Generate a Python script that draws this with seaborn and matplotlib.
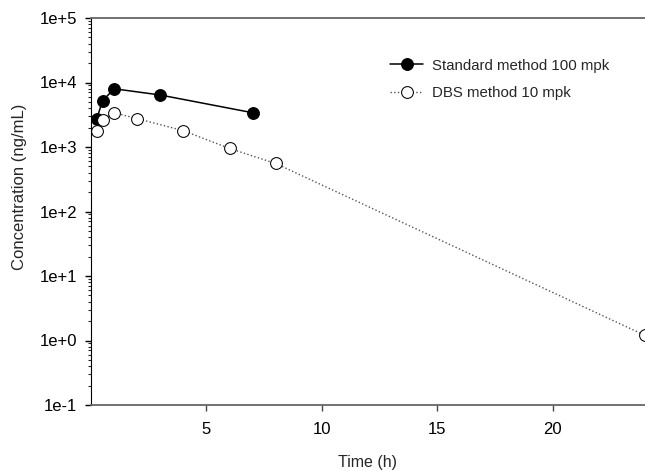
import numpy as np
import pandas as pd
import seaborn as sns
import matplotlib.pyplot as plt
from matplotlib.ticker import FixedLocator, FuncFormatter, LogLocator, NullFormatter

std_time = [0.25, 0.5, 1, 3, 7]
std_conc = [2750, 5200, 8000, 6400, 3400]
dbs_time = [0.25, 0.5, 1, 2, 4, 6, 8, 24]
dbs_conc = [1790, 2650, 3400, 2750, 1790, 950, 555, 1.2]

sns.set_style('ticks')
plt.rcParams['font.family'] = ['Liberation Sans', 'DejaVu Sans']

fig = plt.figure(figsize=(6.45, 4.71), dpi=100)
ax = fig.add_axes([91 / 645, 1 - 405 / 471, 1 - 91 / 645, (405 - 18) / 471])

std = pd.DataFrame({'t': std_time, 'c': std_conc})
dbs = pd.DataFrame({'t': dbs_time, 'c': dbs_conc})

sns.lineplot(data=std, x='t', y='c', ax=ax, color='black', lw=1.1,
             marker='o', markersize=8.5, markerfacecolor='black',
             markeredgecolor='black', label='Standard method 100 mpk', clip_on=False)
sns.lineplot(data=dbs, x='t', y='c', ax=ax, color='#555555', lw=1.0, ls=':',
             marker='o', markersize=8.5, markerfacecolor='white',
             markeredgecolor='black', label='DBS method 10 mpk', clip_on=False)

ax.set_yscale('log')
ax.set_xlim(0, 24)
ax.set_ylim(0.1, 1e5)

ax.xaxis.set_major_locator(FixedLocator([5, 10, 15, 20]))
ax.yaxis.set_major_locator(FixedLocator([1e-1, 1e0, 1e1, 1e2, 1e3, 1e4, 1e5]))
ax.yaxis.set_major_formatter(FuncFormatter(lambda v, p: '1e%+d' % round(np.log10(v))))
ax.yaxis.set_minor_locator(LogLocator(base=10, subs=np.arange(2, 10), numticks=20))
ax.yaxis.set_minor_formatter(NullFormatter())

ax.tick_params(axis='both', which='major', labelsize=12, direction='out', length=4, width=1, colors='black')
ax.tick_params(axis='y', which='major', pad=6)
ax.tick_params(axis='x', which='major', pad=8, colors='#444444', labelcolor='black')
ax.tick_params(axis='y', which='minor', direction='out', length=2.5, width=0.8)

for s in ['top', 'bottom']:
    ax.spines[s].set_color('#666666')
    ax.spines[s].set_linewidth(1.3)
ax.spines['left'].set_color('black')
ax.spines['right'].set_visible(False)

ax.set_xlabel('Time (h)', fontsize=11.5, labelpad=13)
ax.set_ylabel('Concentration (ng/mL)', fontsize=12)
ax.yaxis.set_label_coords(-0.115, 0.565)

ax.legend(loc='upper right', bbox_to_anchor=(0.96, 0.93), frameon=False, fontsize=10.8,
          handlelength=2.2, handletextpad=0.6, labelspacing=0.9)

fig.savefig('out.png', dpi=100)
